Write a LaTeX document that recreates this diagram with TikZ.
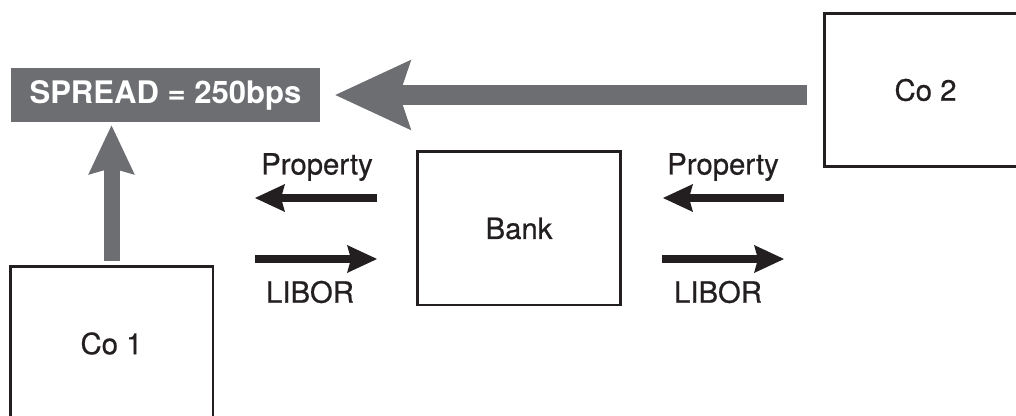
\documentclass[tikz,border=0pt]{standalone}
\usepackage{fontspec}
\setmainfont{TeX Gyre Heros}
\newfontfamily\medfont{TeX Gyre Heros}[FakeBold=0.6]
\usetikzlibrary{arrows.meta}

\definecolor{spreadgray}{HTML}{6D6E71}
\definecolor{inkblack}{HTML}{231F20}

\tikzset{every picture/.style={line width=0.75pt}}
\tikzset{
	party/.style={draw=inkblack, line width=2pt, minimum width=152pt, minimum height=115pt, inner sep=0pt, text=inkblack, font=\medfont\fontsize{22}{26}\selectfont},
	flowlabel/.style={inner sep=0pt, text=inkblack, font=\medfont\fontsize{22}{26}\selectfont},
	flowarrow/.style={draw=inkblack, line width=6pt, -{Stealth[length=22.5pt, width=21pt, inset=3pt, line width=0pt]}},
	bigarrow/.style={draw=spreadgray, line width=15pt, -{Stealth[length=57pt, width=53pt, inset=9pt, line width=0pt]}},
	uparrow/.style={draw=spreadgray, line width=12pt, -{Stealth[length=37pt, width=35pt, inset=5pt, line width=0pt]}}
}

\begin{document}
\begin{tikzpicture}[x=0.75pt,y=0.75pt,yscale=-1,xscale=1]
		\useasboundingbox (0,0) rectangle (1016,416);
		
		%Shape: Spread box
		\node [fill=spreadgray, minimum width=232pt, minimum height=40.5pt, inner sep=0pt, text=white, font=\fontsize{23.3}{28}\selectfont\bfseries] (spread) at (165.5,95) {SPREAD = 250bps};
		%Shape: Rectangle (Co 2)
		\node [party] (co2) at (925.5,90) {Co 2};
		%Shape: Rectangle (Co 1)
		\node [party] (co1) at (111.5,343.5) {Co 1};
		%Shape: Rectangle (Bank)
		\node [party] (bank) at (519,228.5) {Bank};
		
		%gray arrows
		\draw [bigarrow, shorten <=12pt, shorten >=11pt] (co2.west |- spread.east) -- (spread.east) ;
		\draw [uparrow, shorten <=3pt, shorten >=2.25pt] (co1.north) -- (co1.north |- spread.south) ;
		
		%left flows
		\coordinate (lpropS) at (377,198);
		\coordinate (lpropE) at (255,198);
		\coordinate (lliborS) at (255,259);
		\coordinate (lliborE) at (377,259);
		\draw [flowarrow] (lpropS) -- (lpropE) ;
		\draw [flowarrow] (lliborS) -- (lliborE) ;
		%right flows
		\coordinate (rpropS) at (784,198);
		\coordinate (rpropE) at (663,198);
		\coordinate (rliborS) at (662,259);
		\coordinate (rliborE) at (784,259);
		\draw [flowarrow] (rpropS) -- (rpropE) ;
		\draw [flowarrow] (rliborS) -- (rliborE) ;
		
		\node [flowlabel] (lprop) at (317,167) {Property};
		\node [flowlabel] (llibor) at (310,292) {LIBOR};
		\node [flowlabel] (rprop) at (723,167) {Property};
		\node [flowlabel] (rlibor) at (718,292) {LIBOR};
		
	\end{tikzpicture}
\end{document}
